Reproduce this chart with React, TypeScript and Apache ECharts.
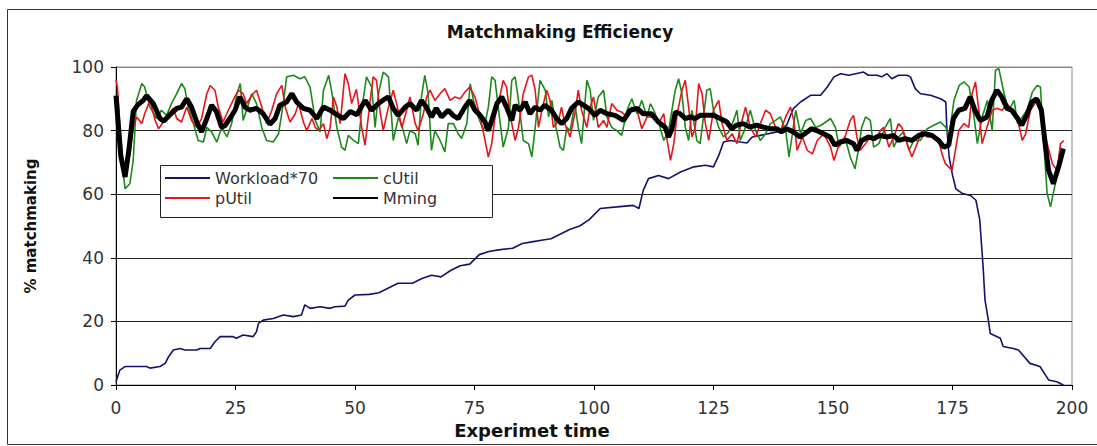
import React, { useEffect, useRef } from "react";
import * as echarts from "echarts";

const chartTitle = "Matchmaking Efficiency";
const xAxisTitle = "Experimet time";
const yAxisTitle = "% matchmaking";
const seriesNames = ["Workload*70", "cUtil", "pUtil", "Mming"];
const legendColumn1 = ["Workload*70", "pUtil"];
const legendColumn2 = ["cUtil", "Mming"];

const workloadX = [0, 0.8, 1.9, 6.4, 7.1, 9.2, 10.3, 11, 12, 13.4, 14.4, 16.9, 17.6, 19.7, 20.7, 21.8, 24.5, 25.2, 26.6, 28.7, 29.4, 29.8, 30.8, 32.9, 35, 37.1, 38.8, 39.5, 40.6, 42.7, 44.8, 45.8, 47.9, 48.6, 50, 53, 55, 57, 59, 62, 64, 66, 68, 70, 72, 74, 76, 78, 80, 83, 85, 87, 89, 91, 93, 95, 97, 99, 101.3, 104.8, 108.2, 109.4, 110.3, 111.4, 113.5, 115.6, 118.1, 120.9, 123.3, 125, 126.1, 127.1, 128.5, 130.6, 132, 133.1, 134.8, 138.3, 140.3, 141.7, 143.2, 145.3, 147.4, 148.8, 150.2, 151.6, 153.3, 156.4, 157.4, 159.2, 160.2, 161.3, 162.3, 163.7, 165.5, 166.2, 167.2, 168.3, 170.4, 172.5, 173.6, 173.8, 174.3, 175, 175.7, 177.1, 178.8, 179.9, 180.7, 181.4, 181.8, 182.5, 182.9, 185, 185.6, 187.7, 188.8, 191.2, 193.3, 195.1, 196.8, 198.2];
const workloadY = [1, 4.7, 5.8, 5.8, 5.3, 5.8, 6.8, 8.9, 11, 11.5, 11, 11, 11.5, 11.5, 13.6, 15.2, 15.2, 14.7, 15.7, 15.2, 16.8, 19.4, 20.4, 20.9, 22, 21.5, 22, 25.2, 24.1, 24.6, 24.1, 24.6, 24.8, 26.7, 28.3, 28.5, 29, 30.5, 32, 32, 33.5, 34.5, 34, 36, 37.5, 38, 41, 42, 42.5, 43, 44.5, 45, 45.5, 46, 47.5, 49, 50, 52, 55.5, 56, 56.5, 55.5, 61.2, 64.9, 65.9, 64.9, 67, 68.6, 69.1, 68.6, 72.2, 76.4, 76.9, 76.4, 76.1, 78, 78.5, 79.6, 81.7, 86.9, 89, 91.1, 91.1, 93.7, 96.9, 97.9, 97.4, 98.4, 97.4, 97.4, 96.9, 97.9, 96.3, 97.4, 97.4, 96.9, 93.2, 91.6, 91.1, 90, 89, 81, 71.7, 66, 61.7, 60.2, 59.6, 58.1, 52, 37.3, 26.7, 20.4, 16.2, 14.7, 12.1, 11.5, 11, 6.8, 5.8, 1.6, 1, 0];

const cUtilX = [0, 0.5, 1.2, 1.9, 2.9, 3.6, 4.3, 5.4, 6, 7.1, 8.5, 9.5, 10.6, 11.6, 12.7, 13.7, 14.4, 15.1, 16.2, 17.2, 18.3, 19, 20, 21.1, 22.1, 23.2, 24.2, 25.3, 26, 26.6, 27.3, 28.4, 29.4, 30.5, 31.5, 32.9, 34, 35, 35.7, 37.1, 38.5, 39.5, 40.6, 41.7, 42.7, 43.4, 44.5, 45.2, 46.2, 47.2, 47.9, 48.6, 49.7, 50.7, 51.4, 52.4, 53.5, 54.2, 54.9, 55.9, 57, 57.7, 58, 59.1, 60.1, 60.8, 61.5, 62.6, 63.2, 63.9, 64.6, 65.3, 66, 66.7, 67.8, 68.8, 69.5, 70.6, 71.6, 72.3, 73.4, 74.1, 74.8, 75.8, 76.9, 77.9, 78.6, 79.3, 80.3, 81, 82.1, 82.8, 83.5, 84.2, 85.2, 86.3, 87, 87.7, 88.7, 89.8, 90.5, 91.2, 91.9, 92.9, 93.6, 94.3, 95, 96, 96.7, 97.4, 98.5, 99.2, 99.9, 100.9, 102, 102.7, 103.7, 104.8, 105.8, 106.9, 107.9, 109, 110, 111.1, 111.8, 112.5, 113.5, 114.6, 115.6, 116.3, 117, 117.7, 118.4, 119.1, 119.8, 120.5, 121.5, 122.2, 122.9, 123.6, 124.3, 125, 126.1, 127.1, 128.2, 129.2, 129.9, 130.6, 131.7, 132.7, 133.8, 134.8, 135.9, 136.9, 138, 139, 140.1, 140.8, 141.5, 142.2, 143.2, 144.3, 145.3, 146.4, 147.4, 148.5, 149.5, 150.5, 151.3, 152.5, 153.6, 154.6, 155.3, 156, 156.8, 157.8, 158.5, 159.6, 160.9, 162, 162.7, 163.7, 164.8, 165.9, 166.9, 168.3, 169.7, 171.1, 172.5, 173.6, 174.3, 175.3, 176.4, 177.4, 178.5, 179.5, 180.2, 181.2, 182.3, 183.3, 184, 184.7, 185.8, 186.8, 187.9, 188.6, 189.6, 190.6, 191.7, 192.7, 193.4, 194.1, 194.8, 195.5, 196.5, 197.6];
const cUtilY = [90, 80, 70.6, 61.7, 63.3, 70.6, 89.5, 94.8, 93.7, 87.4, 83.8, 86.4, 84.8, 88.5, 91.6, 94.8, 93.2, 87.4, 82.2, 76.9, 76.4, 81, 79.6, 76.4, 81, 78, 82.2, 91.6, 94.8, 83.2, 86.4, 91.6, 88.5, 81, 76.9, 76.4, 79, 88.5, 96.9, 97.4, 96.3, 96.9, 93.7, 83.2, 79.6, 92.7, 97.4, 91.6, 81, 74.8, 73.8, 78.5, 76.9, 75.9, 86.4, 96.9, 93.7, 81, 91.6, 98.4, 96.9, 83.2, 76.9, 84.3, 80, 75.9, 80, 79, 75.4, 90.6, 97.4, 91.6, 73.8, 80, 76.9, 73.3, 82.2, 82.2, 79, 77.5, 82.2, 94.8, 89.5, 84.3, 80, 87.4, 96.9, 95.8, 83.2, 74.8, 81, 95.8, 96.9, 89.5, 76.9, 75.9, 71.7, 81, 95.8, 92.7, 84.3, 89.5, 82.2, 74.8, 73.8, 81, 80, 88.5, 81, 75.9, 95.8, 92.7, 83.2, 90.6, 92.7, 84.3, 81, 80, 78.5, 86.4, 90, 85.3, 89.5, 84.3, 88.5, 86.4, 82.7, 76.9, 80, 86.4, 92.7, 96.3, 91.6, 81, 76.9, 86.4, 76.9, 75.9, 84.3, 92.7, 93.2, 86.4, 81, 78, 79.6, 83.2, 86.4, 76.9, 81, 86.4, 80, 76.9, 79, 82.2, 83.2, 84.3, 80, 71.7, 79, 86.4, 79, 83.2, 83.8, 81, 81.6, 82.7, 83.8, 81, 74.8, 78, 71.7, 68, 73.8, 81, 84.3, 83.2, 74.8, 75.9, 81, 83.8, 74.8, 78, 79.6, 73.8, 76.9, 76.9, 80.6, 81.7, 82.7, 81, 78, 89.5, 94.2, 95.3, 93.7, 84.3, 75.9, 84.3, 89.5, 80, 99, 99.5, 91.6, 86.4, 89.5, 82.2, 84.3, 86.4, 92.1, 94.2, 93.7, 75.9, 60.2, 56, 63.3, 74.8];

const pUtilX = [0, 0.3, 0.8, 1.5, 2.2, 2.9, 3.6, 4.3, 5.4, 6, 7.1, 8.2, 8.9, 9.9, 11, 12, 12.7, 13.7, 14.8, 15.8, 16.9, 17.9, 19, 19.7, 20.7, 21.4, 22.4, 23.5, 24.5, 25.6, 26.6, 27.3, 28.4, 29.4, 30.5, 31.5, 32.6, 33.6, 34.7, 35.4, 36.4, 37.5, 38.2, 39.2, 39.9, 41, 41.7, 42.4, 43.4, 44.1, 44.8, 45.5, 46.2, 46.9, 47.9, 48.6, 49.3, 50.3, 51.4, 52.1, 53.1, 53.8, 54.5, 55.2, 55.9, 57, 58, 58.7, 59.8, 60.8, 61.5, 62.6, 63.2, 64.3, 65, 65.7, 66.7, 67.8, 68.8, 69.9, 70.9, 72, 73, 74, 75.1, 76.2, 77.2, 77.9, 78.6, 79.3, 80.3, 81, 81.7, 82.4, 83.5, 84.2, 85.2, 86.3, 87, 87.7, 88.4, 89.1, 90.1, 90.8, 91.5, 92.6, 93.2, 93.9, 95, 96, 96.7, 97.4, 98.5, 99.2, 99.9, 100.9, 102, 102.7, 103.7, 104.8, 105.8, 106.9, 107.9, 109, 110, 111.1, 112.5, 113.5, 114.6, 115.3, 116, 116.7, 117.4, 118.4, 119.1, 119.8, 120.5, 121.2, 121.9, 122.6, 123.3, 124, 125, 126.1, 126.8, 127.8, 128.9, 129.9, 130.6, 131.7, 132.7, 133.8, 134.8, 135.9, 136.9, 138, 139, 140.1, 141.1, 141.8, 142.5, 143.6, 144.6, 145.7, 146.7, 148.1, 149.5, 150.2, 151.3, 152.5, 153.6, 154.3, 155, 155.7, 156.8, 157.8, 158.9, 159.9, 160.6, 161.7, 162.7, 163.7, 164.4, 165.5, 166.5, 167.6, 168.6, 169.7, 171.1, 172.1, 172.8, 173.5, 174.2, 174.9, 175.6, 176.3, 177.4, 178.4, 179.1, 179.8, 180.5, 181.2, 182.2, 183.3, 184.3, 185.4, 186.4, 187.5, 188.5, 189.6, 190.3, 191.3, 192.7, 193.7, 194.8, 195.9, 196.9, 197.6, 198.3];
const pUtilY = [96, 93.7, 81, 68.6, 66.5, 72.7, 81, 84.3, 82.2, 85.3, 89.5, 83.2, 80.6, 82.7, 85.3, 87, 83.8, 82.7, 87.4, 83.2, 81, 83.8, 91.6, 94.2, 92.7, 87.4, 82.7, 86.4, 89.5, 92.7, 91.6, 88.5, 91.1, 92.7, 87.4, 82.2, 86.4, 91.6, 94.2, 87.4, 82.7, 85.3, 88.5, 82.7, 80, 83.8, 81, 80, 82.2, 77.5, 81, 90.6, 87.4, 82.2, 97.9, 94.8, 88.5, 93, 81, 75.4, 88.5, 96.9, 95.8, 86.4, 80, 87.4, 92.7, 88.5, 81, 86.4, 90.6, 82.2, 80, 85.3, 90.6, 92.7, 89.5, 91.6, 93.2, 89.5, 90.6, 90, 92.1, 93.7, 90.6, 84.3, 76.9, 71.7, 75.9, 84.3, 90.6, 95.8, 93.7, 85.3, 76.9, 81, 91.6, 96.9, 97.4, 92.7, 81, 86.4, 92.7, 89.5, 81, 83.2, 87.4, 82.2, 78, 85.3, 92.7, 86.4, 81, 87.4, 90.6, 81, 83.2, 81, 88.5, 86.4, 85.8, 84.3, 87.4, 86.4, 80.6, 84.3, 84.3, 82.2, 85.3, 76.9, 70.6, 75.9, 85.3, 92.7, 95.8, 87.4, 78, 81, 94.8, 91.6, 82.2, 76.9, 86.4, 89.5, 82.2, 76.9, 79, 75.9, 81, 87.4, 81, 78, 82.2, 86.4, 85.3, 81, 80, 84.3, 87.4, 83.2, 73.8, 78, 73.8, 72.7, 76.9, 79, 74.8, 70.6, 75.9, 78, 83.2, 84.8, 78, 73.8, 75.9, 78, 76.9, 80, 81, 74.8, 78, 82.2, 81, 75.9, 71.7, 75.9, 80, 78, 78, 76.9, 72.7, 69.6, 68.6, 67.5, 73.8, 80, 82.2, 81, 91.6, 95.3, 86.4, 75.9, 81, 86.4, 87, 86.4, 88.5, 86.4, 84.3, 76.9, 79, 86.4, 89.5, 85.3, 75.9, 69.6, 67.5, 75.9, 76.9];

const mmingX = [0, 1, 1.9, 2.7, 3.6, 4.5, 5.7, 6.4, 7.8, 9.2, 10, 11.3, 12.7, 13.7, 14.8, 15.8, 16.9, 17.9, 19, 20, 21, 22.1, 22.8, 23.8, 24.9, 25.9, 27, 28, 29.4, 30.8, 32.2, 33.3, 34.3, 35.7, 36.8, 37.8, 39.2, 40.6, 42, 43.4, 44.8, 46.2, 47.6, 49, 50.4, 52.1, 53.5, 54.9, 56.3, 57, 58, 59, 60.5, 61.5, 62.9, 63.9, 64.9, 66, 67, 68.1, 69.5, 70.5, 71.6, 73, 74, 75.1, 76.2, 77.2, 77.9, 78.6, 79.7, 80.7, 81.7, 82.8, 83.5, 84.5, 85.6, 86.6, 87.7, 88.7, 89.7, 91.1, 92.2, 93.2, 94.3, 95.3, 96.7, 97.8, 98.8, 100.2, 101.3, 102.7, 104.4, 106.2, 107.6, 109, 110.3, 112, 113.5, 114.9, 115.6, 116.3, 117, 118, 119.1, 120.1, 121.2, 122.2, 123.6, 125, 126.4, 127.8, 128.8, 129.8, 131.2, 132.6, 134, 135.4, 136.8, 138.2, 139.2, 140.3, 141.7, 143.1, 144.1, 145.5, 146.6, 148, 149.4, 150.4, 151.5, 152.9, 154.3, 155, 156, 157.4, 158.5, 159.9, 161.3, 162.7, 163.7, 165.1, 166.5, 167.9, 169.3, 170.7, 172.1, 173.2, 174.2, 175.2, 176.3, 177.6, 178.7, 179.7, 180.8, 182.2, 183.2, 184.3, 185.3, 186.4, 187.4, 188.4, 189.5, 190.5, 191.6, 192.6, 193.6, 194.3, 195.1, 196.1, 197.2, 198.2];
const mmingY = [91, 72, 65.4, 74, 86, 88, 89.5, 91, 88.5, 83.8, 83, 85, 87, 87.4, 90, 87.4, 82.7, 79.6, 83.8, 88, 86, 81, 81.6, 83.8, 86.4, 90.6, 87.4, 86.4, 87, 85.3, 82, 83.8, 88, 89, 91.6, 89, 87, 86.4, 83.8, 87.4, 86.4, 85, 83.8, 86, 85, 89.5, 86.4, 88.5, 90, 90.6, 87, 84.8, 87.4, 88.5, 86.4, 89.5, 87.4, 84.3, 87, 84.3, 86.4, 84.8, 83.8, 87.4, 89.5, 86.4, 84.8, 82.7, 80, 83.2, 88.5, 90.6, 87.4, 83.2, 88, 86.4, 89, 85.3, 87.4, 86.4, 88, 86.4, 83.8, 82.2, 83.8, 87, 89, 88, 87, 84.8, 86.4, 85.3, 84.8, 83.2, 86.4, 87, 85.3, 85.3, 82.7, 81, 78, 80.5, 85.8, 85.3, 83.8, 84.3, 83.8, 84.8, 84.8, 84.8, 83.8, 82.7, 80.6, 81.7, 82.2, 81.1, 81.7, 81.1, 80.6, 80.6, 79.6, 80.6, 79.6, 78, 79, 80.6, 80, 79, 78, 75.4, 76.4, 76.9, 75.9, 73.8, 76.9, 78, 77.5, 78.5, 78, 78.5, 76.9, 77.5, 76.9, 78.5, 79, 78.5, 76.9, 74.8, 75.4, 83.8, 86.4, 87, 90.6, 86.4, 83.2, 84.3, 89.5, 92.7, 90.6, 87, 86.4, 84.3, 81.7, 84.8, 89, 90, 86.4, 76.9, 67.5, 63.3, 68.6, 74.3];

const seriesX = [workloadX, cUtilX, pUtilX, mmingX];
const seriesY = [workloadY, cUtilY, pUtilY, mmingY];
const seriesColors = ["#12126e", "#1b8a1b", "#e8141c", "#000000"];
const seriesWidths = [1.6, 1.6, 1.6, 5];

const FONT = "DejaVu Sans";

function zip(xs: number[], ys: number[]) {
  return xs.map((x, i) => [x, ys[i]]);
}

export default function App() {
  const ref = useRef<HTMLDivElement>(null);
  useEffect(() => {
    if (!ref.current) return;
    const chart = echarts.init(ref.current, undefined, { renderer: "svg" });
    const legendCommon = {
      orient: "vertical" as const,
      top: 170,
      itemWidth: 45,
      itemHeight: 10,
      itemGap: 4,
      padding: 0,
      itemStyle: { color: "transparent", borderColor: "transparent", borderWidth: 0, opacity: 0 },
      textStyle: { fontFamily: FONT, fontSize: 16, color: "#333" },
    };
    chart.setOption({
      animation: false,
      backgroundColor: "#ffffff",
      title: {
        text: chartTitle,
        left: 555,
        top: 18,
        textAlign: "center",
        textStyle: { fontFamily: FONT, fontWeight: "bold", fontSize: 17, color: "#111" },
      },
      grid: {
        left: 116,
        top: 67,
        right: 25,
        bottom: 61,
        show: true,
        borderColor: "#888",
        borderWidth: 1,
        backgroundColor: "transparent",
      },
      legend: [
        { ...legendCommon, data: legendColumn1, left: 164 },
        { ...legendCommon, data: legendColumn2, left: 332 },
      ],
      xAxis: {
        type: "value",
        min: 0,
        max: 200,
        interval: 25,
        name: xAxisTitle,
        nameLocation: "middle",
        nameGap: 36,
        nameTextStyle: {
          fontFamily: FONT,
          fontWeight: "bold",
          fontSize: 18,
          color: "#111",
          padding: [0, 124, 0, 0],
        },
        axisLine: { show: true, lineStyle: { color: "#000", width: 1 } },
        axisTick: { show: true, length: 5, lineStyle: { color: "#000" } },
        axisLabel: { margin: 14, fontFamily: FONT, fontSize: 17, color: "#333" },
        splitLine: { show: false },
      },
      yAxis: {
        type: "value",
        min: 0,
        max: 100,
        interval: 20,
        name: yAxisTitle,
        nameLocation: "middle",
        nameGap: 78,
        nameTextStyle: { fontFamily: FONT, fontWeight: "bold", fontSize: 15, color: "#111" },
        axisLine: { show: true, lineStyle: { color: "#000", width: 1 } },
        axisTick: { show: true, length: 5, lineStyle: { color: "#000" } },
        axisLabel: { margin: 12, fontFamily: FONT, fontSize: 17, color: "#333" },
        splitLine: {
          show: true,
          lineStyle: { color: ["#222", "#222", "#222", "#222", "#222", "#888"], width: 1 },
        },
      },
      graphic: [
        {
          type: "rect",
          shape: { x: 7.5, y: 9.5, width: 1100, height: 435 },
          style: { fill: "none", stroke: "#333", lineWidth: 1 },
          silent: true,
          z: 0,
        },
        {
          type: "rect",
          shape: { x: 160.5, y: 165.5, width: 332, height: 52 },
          style: { fill: "#fff", stroke: "#222", lineWidth: 1 },
          silent: true,
          z: 3,
        },
      ],
      series: seriesNames.map((name, i) => ({
        name,
        type: "line",
        data: zip(seriesX[i], seriesY[i]),
        symbol: "none",
        showSymbol: false,
        smooth: false,
        color: seriesColors[i],
        lineStyle: { color: seriesColors[i], width: seriesWidths[i] },
        z: 2 + i * 0.01,
      })),
    });
    return () => chart.dispose();
  }, []);
  return (
    <div
      ref={ref}
      style={{ position: "fixed", left: 0, top: 0, width: 1097, height: 446 }}
    />
  );
}
